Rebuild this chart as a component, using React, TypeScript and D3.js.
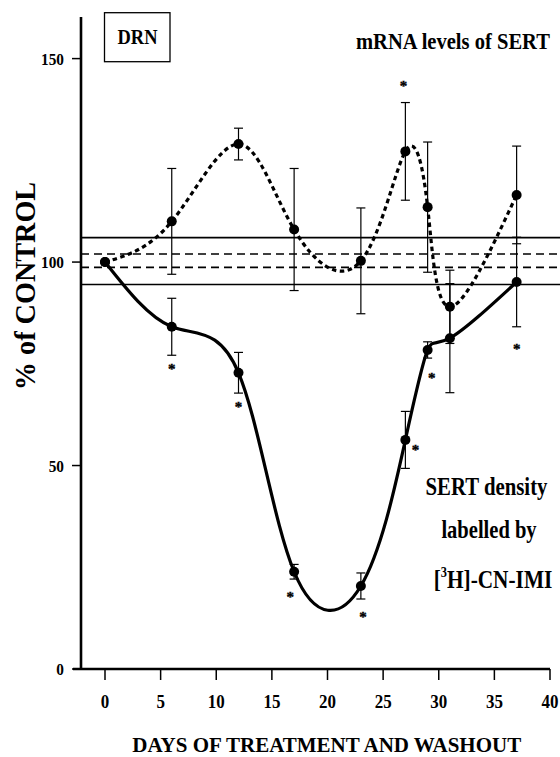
import React from 'react';
import * as d3 from 'd3';

// ---- data ----
const days = [0, 6, 12, 17, 23, 27, 29, 31, 37];
const mrnaValues = [100, 110, 129, 108, 100.3, 127.2, 113.5, 89, 116.5];
const mrnaErrors = [0, 13, 3.9, 15, 13, 12, 16, 9, 12];
const sertValues = [100, 84.1, 72.8, 23.9, 20.4, 56.3, 78.4, 81.3, 95.1];
const sertErrors = [0, 7, 5, 1.8, 3.2, 7, 2, 13.4, 11];
const xTicks = [0, 5, 10, 15, 20, 25, 30, 35, 40];
const yTicks = [0, 50, 100, 150];
const controlSolid = [94.5, 106];
const controlDashed = [98.7, 102];
const mrnaStarDays = [27];
const sertStarDays = [6, 12, 17, 23, 27, 29, 37];

// ---- annotation placement (pixels, relative to the point) ----
const mrnaStarOffset: Record<number, [number, number]> = { 27: [-2, -68] };
const sertStarOffset: Record<number, [number, number]> = {
  6: [0, 40], 12: [0, 32], 17: [-4, 23], 23: [2, 29], 27: [10, 8], 29: [4, 26], 37: [0, 64],
};

const FONT = "'Liberation Serif', 'Times New Roman', serif";

function SText({ x, y, sx = 1, size, anchor = 'start', rotate = 0, children }: any) {
  return (
    <text
      transform={`translate(${x},${y}) rotate(${rotate}) scale(${sx},1)`}
      fontSize={size}
      textAnchor={anchor}
      fontFamily={FONT}
      fontWeight="bold"
      fill="#000"
    >
      {children}
    </text>
  );
}

export default function App() {
  const W = 560, H = 757;
  const x = d3.scaleLinear().domain([0, 40]).range([105, 550]);
  const y = d3.scaleLinear().domain([0, 150]).range([669, 58.6]);
  const axisX = 81;

  const line = d3
    .line<[number, number]>()
    .x((d) => x(d[0]))
    .y((d) => y(d[1]))
    .curve(d3.curveNatural);

  const mrnaPts = days.map((d, i) => [d, mrnaValues[i]] as [number, number]);
  const sertPts = days.map((d, i) => [d, sertValues[i]] as [number, number]);

  const errBars = (vals: number[], errs: number[], key: string) =>
    days.map((d, i) =>
      errs[i] > 0 ? (
        <g key={key + i} stroke="#000" strokeWidth={1.2}>
          <line x1={x(d)} x2={x(d)} y1={y(vals[i] - errs[i])} y2={y(vals[i] + errs[i])} />
          <line x1={x(d) - 4.5} x2={x(d) + 4.5} y1={y(vals[i] - errs[i])} y2={y(vals[i] - errs[i])} />
          <line x1={x(d) - 4.5} x2={x(d) + 4.5} y1={y(vals[i] + errs[i])} y2={y(vals[i] + errs[i])} />
        </g>
      ) : null
    );

  const star = (d: number, v: number, off: [number, number], k: string) => (
    <text
      key={k}
      x={x(d) + off[0]}
      y={y(v) + off[1] + 7.5}
      fontSize={15}
      textAnchor="middle"
      fontFamily={FONT}
      fontWeight="bold"
      fill="#000"
      stroke="#000"
      strokeWidth={0.4}
    >
      *
    </text>
  );

  return (
    <svg
      width={W}
      height={H}
      viewBox={`0 0 ${W} ${H}`}
      style={{ position: 'absolute', left: 0, top: 0, background: '#fff' }}
    >
      <rect x={0} y={0} width={W} height={H} fill="#fff" />

      {/* control band lines */}
      {controlSolid.map((v, i) => (
        <line key={'cs' + i} x1={axisX} x2={560} y1={y(v)} y2={y(v)} stroke="#000" strokeWidth={1.6} />
      ))}
      {controlDashed.map((v, i) => (
        <line key={'cd' + i} x1={axisX} x2={560} y1={y(v)} y2={y(v)} stroke="#000" strokeWidth={1.6} strokeDasharray="8 5" />
      ))}

      {/* axes */}
      <line x1={axisX} x2={axisX} y1={y(160.2)} y2={y(0)} stroke="#000" strokeWidth={2.6} />
      <line x1={73} x2={x(40)} y1={y(0)} y2={y(0)} stroke="#000" strokeWidth={2.6} />
      {yTicks.map((t) => (
        <g key={'yt' + t}>
          <line x1={72} x2={axisX} y1={y(t)} y2={y(t)} stroke="#000" strokeWidth={1.5} />
          <SText x={64} y={y(t) + 6} size={17} sx={0.9} anchor="end">{t}</SText>
        </g>
      ))}
      {xTicks.map((t) => (
        <g key={'xt' + t}>
          <line x1={x(t)} x2={x(t)} y1={y(0)} y2={y(0) + 11} stroke="#000" strokeWidth={1.5} />
          <SText x={x(t)} y={708} size={19.5} sx={0.87} anchor="middle">{t}</SText>
        </g>
      ))}

      {/* error bars */}
      {errBars(mrnaValues, mrnaErrors, 'em')}
      {errBars(sertValues, sertErrors, 'es')}

      {/* curves */}
      <path d={line(mrnaPts) || ''} fill="none" stroke="#000" strokeWidth={3.2} strokeDasharray="4.5 3.5" />
      <path d={line(sertPts) || ''} fill="none" stroke="#000" strokeWidth={3.2} />

      {/* points */}
      {mrnaPts.map((p, i) => (
        <circle key={'mp' + i} cx={x(p[0])} cy={y(p[1])} r={5} fill="#000" />
      ))}
      {sertPts.map((p, i) => (
        <circle key={'sp' + i} cx={x(p[0])} cy={y(p[1])} r={5} fill="#000" />
      ))}

      {/* significance stars */}
      {mrnaStarDays.map((d) => star(d, mrnaValues[days.indexOf(d)], mrnaStarOffset[d], 'ms' + d))}
      {sertStarDays.map((d) => star(d, sertValues[days.indexOf(d)], sertStarOffset[d], 'ss' + d))}

      {/* DRN box */}
      <rect x={104.5} y={12.7} width={65.5} height={49} fill="none" stroke="#000" strokeWidth={1.3} />
      <SText x={137.5} y={43.5} size={22} sx={0.84} anchor="middle">DRN</SText>

      {/* labels */}
      <SText x={356} y={49.3} size={24} sx={0.857}>mRNA levels of SERT</SText>
      <SText x={486.5} y={495} size={26} sx={0.8} anchor="middle">SERT density</SText>
      <SText x={489} y={538} size={26} sx={0.79} anchor="middle">labelled by</SText>
      <SText x={493} y={587.7} size={26} sx={0.82} anchor="middle">
        [<tspan fontSize={15} dy={-10.5}>3</tspan><tspan dy={10.5}>H]-CN-IMI</tspan>
      </SText>

      <SText x={35} y={286} size={30} sx={0.94} anchor="middle" rotate={-90}>% of CONTROL</SText>
      <SText x={326.7} y={751.5} size={21} anchor="middle">DAYS OF TREATMENT AND WASHOUT</SText>
    </svg>
  );
}
